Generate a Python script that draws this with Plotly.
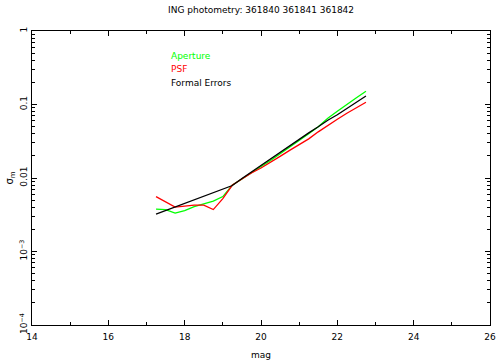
import numpy as np
import plotly.graph_objects as go

title = "ING photometry: 361840 361841 361842"
mag = [17.25, 17.5, 17.75, 18.0, 18.25, 18.5, 18.75, 19.0, 19.25, 19.5, 19.75, 20.0,
       20.25, 20.5, 20.75, 21.0, 21.25, 21.5, 21.75, 22.0, 22.25, 22.5, 22.75]
aperture = [3.77e-3, 3.72e-3, 3.33e-3, 3.60e-3, 4.08e-3, 4.49e-3, 4.85e-3, 5.59e-3, 8.02e-3,
            9.69e-3, 0.01189, 0.01436, 0.01733, 0.02126, 0.02649, 0.03249, 0.03988, 0.04969,
            0.06493, 0.08088, 0.1008, 0.1237, 0.1517]
psf = [5.59e-3, 4.78e-3, 4.02e-3, 4.15e-3, 4.28e-3, 4.28e-3, 3.72e-3, 5.25e-3, 8.02e-3,
       9.69e-3, 0.0117, 0.01369, 0.01628, 0.01966, 0.02373, 0.02866, 0.03407, 0.04246,
       0.05208, 0.06288, 0.07596, 0.09028, 0.1073]
formal = [3.225e-3, 3.60e-3, 4.02e-3, 4.49e-3, 5.01e-3, 5.68e-3, 6.34e-3, 7.08e-3, 7.90e-3,
          9.84e-3, 0.01208, 0.01481, 0.01817, 0.02229, 0.02778, 0.03354, 0.04114, 0.04969,
          0.06095, 0.07244, 0.08887, 0.1073, 0.1308]
series_names = ["Aperture", "PSF", "Formal Errors"]
series_colors = ["#00ff00", "#ff0000", "#000000"]
y_tickvals = [1e-4, 1e-3, 1e-2, 1e-1, 1]
y_ticktext = ["10<sup>−4</sup>", "10<sup>−3</sup>", "0.01", "0.1", "1"]
x_tickvals = [14, 16, 18, 20, 22, 24, 26]

fig = go.Figure()
for name, ys, col in zip(series_names, [aperture, psf, formal], series_colors):
    fig.add_trace(go.Scatter(x=mag, y=ys, mode="lines", name=name,
                             line=dict(color=col, width=1.3), showlegend=False))

leg_y = [0.916, 0.870, 0.822]
for name, col, yy in zip(series_names, series_colors, leg_y):
    fig.add_annotation(text=name, x=0.299, y=yy, xref="paper", yref="paper",
                       xanchor="left", yanchor="middle", showarrow=False,
                       font=dict(color=col, size=9, family="DejaVu Sans"))

minor_y = [m * 10.0 ** e for e in range(-4, 0) for m in range(2, 10)]

fig.update_layout(
    width=502, height=363,
    margin=dict(l=32, r=12, t=31, b=38),
    paper_bgcolor="white", plot_bgcolor="white",
    font=dict(family="DejaVu Sans", size=9, color="black"),
    title=dict(text=title, x=0.52, xanchor="center", y=0.972, yanchor="middle",
               font=dict(size=9)),
    xaxis=dict(range=[14, 26], tickmode="array", tickvals=x_tickvals, automargin=False,
               showline=True, linecolor="black", linewidth=1, mirror="allticks",
               ticks="inside", ticklen=5, tickcolor="black", showgrid=False, zeroline=False,
               ticklabelstandoff=3,
               minor=dict(ticks="inside", ticklen=3, tickcolor="black", dtick=1, tick0=15,
                          showgrid=False),
               title=dict(text="mag", font=dict(size=9), standoff=10)),
    yaxis=dict(type="log", range=[-4, 0], tickmode="array", tickvals=y_tickvals,
               ticktext=y_ticktext, tickangle=-90, automargin=False,
               showline=True, linecolor="black", linewidth=1, mirror="allticks",
               ticks="inside", ticklen=5, tickcolor="black", showgrid=False, zeroline=False,
               minor=dict(ticks="inside", ticklen=3, tickcolor="black", tickmode="array",
                          tickvals=minor_y, showgrid=False),
               title=dict(text="σ<sub>m</sub>", font=dict(size=10), standoff=2)),
)

fig.write_html("out.html")
